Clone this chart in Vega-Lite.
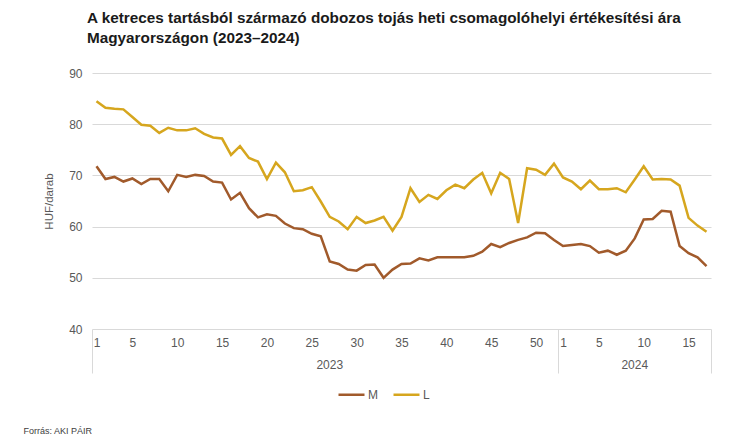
{
  "$schema": "https://vega.github.io/schema/vega-lite/v6.json",
  "width": 619,
  "height": 256,
  "autosize": {"type": "none"},
  "padding": {"left": 92, "top": 73, "right": 39, "bottom": 115},
  "background": "#ffffff",
  "config": {
    "font": "Liberation Sans",
    "view": {"stroke": null},
    "axis": {"labelColor": "#595959", "labelFontSize": 12, "titleColor": "#595959", "titleFontWeight": "normal"}
  },
  "title": {
    "text": ["A ketreces tartásból származó dobozos tojás heti csomagolóhelyi értékesítési ára", "Magyarországon (2023–2024)"],
    "anchor": "start",
    "frame": "group",
    "dx": -5,
    "offset": 21,
    "fontSize": 15.3,
    "fontWeight": "bold",
    "color": "#1a1a1a",
    "lineHeight": 20
  },
  "data": {"values": [
    {"k":"2023-01","s":"M","v":71.8},{"k":"2023-02","s":"M","v":69.3},{"k":"2023-03","s":"M","v":69.7},{"k":"2023-04","s":"M","v":68.8},
    {"k":"2023-05","s":"M","v":69.4},{"k":"2023-06","s":"M","v":68.3},{"k":"2023-07","s":"M","v":69.3},{"k":"2023-08","s":"M","v":69.3},
    {"k":"2023-09","s":"M","v":66.9},{"k":"2023-10","s":"M","v":70.1},{"k":"2023-11","s":"M","v":69.7},{"k":"2023-12","s":"M","v":70.1},
    {"k":"2023-13","s":"M","v":69.9},{"k":"2023-14","s":"M","v":68.8},{"k":"2023-15","s":"M","v":68.6},{"k":"2023-16","s":"M","v":65.3},
    {"k":"2023-17","s":"M","v":66.6},{"k":"2023-18","s":"M","v":63.6},{"k":"2023-19","s":"M","v":61.8},{"k":"2023-20","s":"M","v":62.4},
    {"k":"2023-21","s":"M","v":62.1},{"k":"2023-22","s":"M","v":60.6},{"k":"2023-23","s":"M","v":59.7},{"k":"2023-24","s":"M","v":59.5},
    {"k":"2023-25","s":"M","v":58.6},{"k":"2023-26","s":"M","v":58.1},{"k":"2023-27","s":"M","v":53.2},{"k":"2023-28","s":"M","v":52.7},
    {"k":"2023-29","s":"M","v":51.6},{"k":"2023-30","s":"M","v":51.4},{"k":"2023-31","s":"M","v":52.5},{"k":"2023-32","s":"M","v":52.6},
    {"k":"2023-33","s":"M","v":50.0},{"k":"2023-34","s":"M","v":51.6},{"k":"2023-35","s":"M","v":52.7},{"k":"2023-36","s":"M","v":52.8},
    {"k":"2023-37","s":"M","v":53.8},{"k":"2023-38","s":"M","v":53.4},{"k":"2023-39","s":"M","v":54.0},{"k":"2023-40","s":"M","v":54.0},
    {"k":"2023-41","s":"M","v":54.0},{"k":"2023-42","s":"M","v":54.0},{"k":"2023-43","s":"M","v":54.3},{"k":"2023-44","s":"M","v":55.1},
    {"k":"2023-45","s":"M","v":56.6},{"k":"2023-46","s":"M","v":56.0},{"k":"2023-47","s":"M","v":56.8},{"k":"2023-48","s":"M","v":57.4},
    {"k":"2023-49","s":"M","v":57.9},{"k":"2023-50","s":"M","v":58.8},{"k":"2023-51","s":"M","v":58.7},{"k":"2023-52","s":"M","v":57.4},
    {"k":"2024-01","s":"M","v":56.2},{"k":"2024-02","s":"M","v":56.4},{"k":"2024-03","s":"M","v":56.6},{"k":"2024-04","s":"M","v":56.2},
    {"k":"2024-05","s":"M","v":54.9},{"k":"2024-06","s":"M","v":55.3},{"k":"2024-07","s":"M","v":54.5},{"k":"2024-08","s":"M","v":55.3},
    {"k":"2024-09","s":"M","v":57.7},{"k":"2024-10","s":"M","v":61.4},{"k":"2024-11","s":"M","v":61.5},{"k":"2024-12","s":"M","v":63.1},
    {"k":"2024-13","s":"M","v":62.9},{"k":"2024-14","s":"M","v":56.2},{"k":"2024-15","s":"M","v":54.8},{"k":"2024-16","s":"M","v":54.0},
    {"k":"2024-17","s":"M","v":52.3},
    {"k":"2023-01","s":"L","v":84.5},{"k":"2023-02","s":"L","v":83.2},{"k":"2023-03","s":"L","v":83.0},{"k":"2023-04","s":"L","v":82.9},
    {"k":"2023-05","s":"L","v":81.4},{"k":"2023-06","s":"L","v":79.9},{"k":"2023-07","s":"L","v":79.7},{"k":"2023-08","s":"L","v":78.3},
    {"k":"2023-09","s":"L","v":79.3},{"k":"2023-10","s":"L","v":78.8},{"k":"2023-11","s":"L","v":78.8},{"k":"2023-12","s":"L","v":79.2},
    {"k":"2023-13","s":"L","v":78.1},{"k":"2023-14","s":"L","v":77.4},{"k":"2023-15","s":"L","v":77.2},{"k":"2023-16","s":"L","v":74.0},
    {"k":"2023-17","s":"L","v":75.7},{"k":"2023-18","s":"L","v":73.4},{"k":"2023-19","s":"L","v":72.7},{"k":"2023-20","s":"L","v":69.3},
    {"k":"2023-21","s":"L","v":72.5},{"k":"2023-22","s":"L","v":70.6},{"k":"2023-23","s":"L","v":66.9},{"k":"2023-24","s":"L","v":67.1},
    {"k":"2023-25","s":"L","v":67.7},{"k":"2023-26","s":"L","v":64.9},{"k":"2023-27","s":"L","v":61.9},{"k":"2023-28","s":"L","v":61.0},
    {"k":"2023-29","s":"L","v":59.5},{"k":"2023-30","s":"L","v":61.9},{"k":"2023-31","s":"L","v":60.7},{"k":"2023-32","s":"L","v":61.2},
    {"k":"2023-33","s":"L","v":61.9},{"k":"2023-34","s":"L","v":59.2},{"k":"2023-35","s":"L","v":61.9},{"k":"2023-36","s":"L","v":67.5},
    {"k":"2023-37","s":"L","v":64.8},{"k":"2023-38","s":"L","v":66.2},{"k":"2023-39","s":"L","v":65.4},{"k":"2023-40","s":"L","v":67.1},
    {"k":"2023-41","s":"L","v":68.2},{"k":"2023-42","s":"L","v":67.5},{"k":"2023-43","s":"L","v":69.2},{"k":"2023-44","s":"L","v":70.5},
    {"k":"2023-45","s":"L","v":66.5},{"k":"2023-46","s":"L","v":70.5},{"k":"2023-47","s":"L","v":69.3},{"k":"2023-48","s":"L","v":60.7},
    {"k":"2023-49","s":"L","v":71.4},{"k":"2023-50","s":"L","v":71.1},{"k":"2023-51","s":"L","v":70.1},{"k":"2023-52","s":"L","v":72.3},
    {"k":"2024-01","s":"L","v":69.6},{"k":"2024-02","s":"L","v":68.8},{"k":"2024-03","s":"L","v":67.3},{"k":"2024-04","s":"L","v":69.0},
    {"k":"2024-05","s":"L","v":67.3},{"k":"2024-06","s":"L","v":67.3},{"k":"2024-07","s":"L","v":67.5},{"k":"2024-08","s":"L","v":66.7},
    {"k":"2024-09","s":"L","v":69.2},{"k":"2024-10","s":"L","v":71.8},{"k":"2024-11","s":"L","v":69.2},{"k":"2024-12","s":"L","v":69.3},
    {"k":"2024-13","s":"L","v":69.2},{"k":"2024-14","s":"L","v":68.0},{"k":"2024-15","s":"L","v":61.7},{"k":"2024-16","s":"L","v":60.2},
    {"k":"2024-17","s":"L","v":59.0}
  ]},
  "resolve": {"scale": {"x": "independent"}, "axis": {"x": "independent"}},
  "layer": [
    {
      "mark": {"type": "line", "strokeWidth": 2.5},
      "encoding": {
        "x": {
          "field": "k", "type": "ordinal", "sort": "ascending",
          "scale": {"type": "point", "padding": 0.5},
          "axis": {
            "orient": "bottom",
            "values": ["2023-01","2023-05","2023-10","2023-15","2023-20","2023-25","2023-30","2023-35","2023-40","2023-45","2023-50","2024-01","2024-05","2024-10","2024-15"],
            "labelExpr": "'' + toNumber(slice(datum.value, 5))",
            "labelAngle": 0, "ticks": false, "domain": false, "grid": false, "title": null, "labelPadding": 8
          }
        },
        "y": {
          "field": "v", "type": "quantitative",
          "scale": {"domain": [40, 90], "nice": false, "zero": false},
          "axis": {
            "values": [40, 50, 60, 70, 80, 90],
            "title": "HUF/darab", "titleFontSize": 11.5, "titlePadding": 14,
            "domain": false, "ticks": false, "labelPadding": 10,
            "gridColor": "#d9d9d9", "gridWidth": 1
          }
        },
        "color": {
          "field": "s", "type": "nominal",
          "scale": {"domain": ["M", "L"], "range": ["#A15A2B", "#D6A61E"]},
          "legend": {
            "title": null, "orient": "none", "direction": "horizontal",
            "legendX": 245, "legendY": 307,
            "symbolType": "stroke", "symbolSize": 676, "symbolStrokeWidth": 2.5,
            "labelFontSize": 12, "labelColor": "#595959", "labelOffset": 2, "columnPadding": 10
          }
        }
      }
    },
    {
      "mark": {"type": "bar", "opacity": 0},
      "encoding": {
        "x": {
          "field": "k", "type": "ordinal", "sort": "ascending",
          "scale": {"type": "band", "paddingInner": 0, "paddingOuter": 0},
          "axis": {
            "orient": "bottom", "values": ["2023-01", "2023-27", "2024-01"], "bandPosition": 0,
            "ticks": true, "tickSize": 44, "tickColor": "#d9d9d9", "tickWidth": 1,
            "tickOpacity": {"condition": {"test": "datum.value == '2023-27'", "value": 0}, "value": 1},
            "labelExpr": "datum.value == '2023-27' ? '2023' : ''",
            "labelPadding": -14, "labelAngle": 0, "labelAlign": "center",
            "domain": false, "grid": false, "title": null
          }
        }
      }
    },
    {
      "mark": {"type": "bar", "opacity": 0},
      "encoding": {
        "x": {
          "field": "k", "type": "ordinal", "sort": "ascending",
          "scale": {"type": "band", "paddingInner": 0, "paddingOuter": 0},
          "axis": {
            "orient": "bottom", "values": ["2024-09"], "bandPosition": 0.5,
            "ticks": true, "tickSize": 44, "tickOpacity": 0,
            "labelExpr": "'2024'",
            "labelPadding": -14, "labelAngle": 0, "labelAlign": "center",
            "domain": false, "grid": false, "title": null
          }
        }
      }
    },
    {
      "mark": {"type": "bar", "opacity": 0},
      "encoding": {
        "x": {
          "field": "k", "type": "ordinal", "sort": "ascending",
          "scale": {"type": "band", "paddingInner": 0, "paddingOuter": 0},
          "axis": {
            "orient": "bottom", "values": ["2024-17"], "bandPosition": 1,
            "ticks": true, "tickSize": 44, "tickColor": "#d9d9d9", "tickWidth": 1,
            "labels": false, "domain": false, "grid": false,
            "title": "Forrás: AKI PÁIR", "titleFontSize": 9, "titleColor": "#404040",
            "titleAnchor": "start", "titleAlign": "left", "titleBaseline": "middle",
            "titleX": -69, "titleY": 101
          }
        }
      }
    }
  ]
}
